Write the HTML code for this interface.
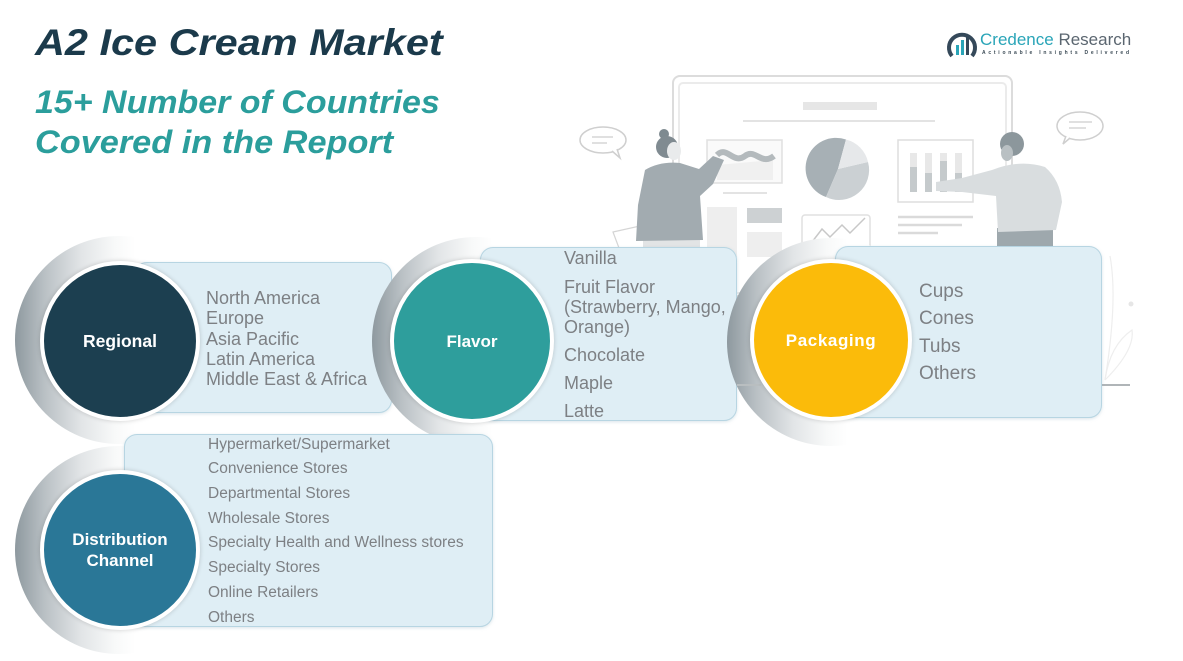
<!DOCTYPE html>
<html><head><meta charset="utf-8">
<style>
*{margin:0;padding:0;box-sizing:border-box}
html,body{width:1183px;height:661px;overflow:hidden;background:#fff}
body{position:relative;font-family:"Liberation Sans",sans-serif}
.abs{position:absolute}
.disc{position:absolute;border-radius:50%;width:208px;height:208px;
 background:linear-gradient(to right,#8e999f 0%,#b9c0c4 14%,#e2e5e7 32%,#f8f9f9 48%,#fff 58%)}
.box{position:absolute;background:#dfeef5;border:1.5px solid #b7d5e2;border-radius:13px;box-shadow:0 1px 3px rgba(150,180,195,.35)}
.circ{position:absolute;border-radius:50%;border:4px solid #fff;box-shadow:0 0 5px rgba(0,0,0,.18);
 display:flex;align-items:center;justify-content:center;text-align:center;color:#fff;font-weight:bold;font-size:17px;line-height:21px}
.t{position:absolute;color:#7d8084;white-space:nowrap}
.r{font-size:18px;line-height:20.4px}
.f{font-size:18px;line-height:20px}
.p{font-size:19px;line-height:20px}
.d{font-size:15.5px;line-height:20px}
</style></head><body>

<!-- illustration -->
<svg class="abs" style="left:0;top:0" width="1183" height="661" viewBox="0 0 1183 661">
 <rect x="673" y="76" width="339" height="220" rx="7" fill="none" stroke="#dcdcdc" stroke-width="2"/>
 <rect x="679" y="83" width="327" height="210" rx="4" fill="none" stroke="#ebebeb" stroke-width="2"/>
 <rect x="803" y="102" width="74" height="8" fill="#e6e6e6"/>
 <line x1="743" y1="121" x2="935" y2="121" stroke="#e3e3e3" stroke-width="2"/>
 <rect x="707" y="140" width="75" height="43" fill="#fafafa" stroke="#e0e0e0" stroke-width="1.5"/>
 <path d="M717,165 L773,160 L773,180 L717,180 Z" fill="#f0f0f0"/>
 <path d="M717,155 C727,145 733,165 745,156 C755,148 761,166 774,156" fill="none" stroke="#b4babd" stroke-width="6"/>
 <line x1="723" y1="193" x2="767" y2="193" stroke="#e3e3e3" stroke-width="2"/>
 <path d="M838,169 L846,139.5 A30,30 0 0,0 826,197 Z" fill="#a7b0b5"/>
 <path d="M838,169 L826,197 A30,30 0 0,0 868,162 Z" fill="#cbd0d3"/>
 <path d="M838,169 L868,162 A30,30 0 0,0 846,139.5 Z" fill="#e6e8ea"/>
 <rect x="707" y="207" width="30" height="50" fill="#eeeeee"/>
 <rect x="747" y="208" width="35" height="15" fill="#cdd1d3"/>
 <rect x="747" y="232" width="35" height="25" fill="#eeeeee"/>
 <rect x="802" y="215" width="68" height="42" rx="3" fill="none" stroke="#e0e0e0" stroke-width="1.5"/>
 <polyline points="812,242 822,229 830,237 842,225 850,233 865,218" fill="none" stroke="#c8c8c8" stroke-width="1.5"/>
 <rect x="898" y="140" width="75" height="62" fill="none" stroke="#dedede" stroke-width="1.5"/>
 <rect x="910" y="153" width="7" height="39" fill="#e8e8e8"/>
 <rect x="925" y="153" width="7" height="39" fill="#e8e8e8"/>
 <rect x="940" y="153" width="7" height="39" fill="#e8e8e8"/>
 <rect x="955" y="153" width="7" height="39" fill="#e8e8e8"/>
 <rect x="910" y="167" width="7" height="25" fill="#c5cacc"/>
 <rect x="925" y="173" width="7" height="19" fill="#c5cacc"/>
 <rect x="940" y="161" width="7" height="31" fill="#c5cacc"/>
 <rect x="955" y="173" width="7" height="19" fill="#c5cacc"/>
 <line x1="898" y1="217" x2="973" y2="217" stroke="#dadada" stroke-width="2.5"/>
 <line x1="898" y1="225" x2="962" y2="225" stroke="#dadada" stroke-width="2.5"/>
 <line x1="898" y1="233" x2="938" y2="233" stroke="#dadada" stroke-width="2.5"/>
 <!-- speech bubbles -->
 <ellipse cx="603" cy="140" rx="23" ry="13" fill="#fff" stroke="#cfcfcf" stroke-width="1.5"/>
 <path d="M612,151 L620,158 L617,149" fill="#fff" stroke="#cfcfcf" stroke-width="1.5"/>
 <line x1="592" y1="137" x2="613" y2="137" stroke="#d5d5d5" stroke-width="1.5"/>
 <line x1="592" y1="143" x2="607" y2="143" stroke="#d5d5d5" stroke-width="1.5"/>
 <ellipse cx="1080" cy="126" rx="23" ry="14" fill="#fff" stroke="#cfcfcf" stroke-width="1.5"/>
 <path d="M1070,138 L1063,144 L1066,136" fill="#fff" stroke="#cfcfcf" stroke-width="1.5"/>
 <line x1="1069" y1="122" x2="1092" y2="122" stroke="#d5d5d5" stroke-width="1.5"/>
 <line x1="1069" y1="128" x2="1086" y2="128" stroke="#d5d5d5" stroke-width="1.5"/>
 <!-- woman -->
 <path d="M613,232 L640,226 L652,252 L622,256 Z" fill="#fff" stroke="#d5d5d5" stroke-width="1.2"/>
 <rect x="643" y="236" width="57" height="20" fill="#e2e4e5"/>
 <path d="M645,170 Q660,161 680,163 L699,169 L713,156 L724,160 L713,184 L700,196 L703,240 L636,241 L638,205 Z" fill="#a2abb0"/>
 <circle cx="664" cy="134" r="5" fill="#7e8a90"/>
 <circle cx="667" cy="147" r="11" fill="#808b91"/>
 <ellipse cx="674" cy="151" rx="7" ry="9" fill="#e9ebec"/>
 <!-- man -->
 <rect x="997" y="228" width="56" height="28" fill="#9ea8ad"/>
 <path d="M992,170 Q1020,159 1045,167 Q1060,180 1062,202 L1056,230 L998,232 L996,196 L962,192 L936,191 L936,182 L962,178 Z" fill="#d9dddf"/>
 <circle cx="1012" cy="144" r="12" fill="#8c979c"/>
 <ellipse cx="1007" cy="153" rx="6" ry="8" fill="#b9c0c3"/>
 <!-- plant -->
 <path d="M1110,256 Q1118,300 1105,380" fill="none" stroke="#eeeeee" stroke-width="1.2"/>
 <path d="M1105,380 Q1135,350 1132,330 Q1110,345 1105,380" fill="none" stroke="#eeeeee" stroke-width="1.2"/>
 <circle cx="1131" cy="304" r="2.5" fill="#e6e6e6"/>
</svg>

<!-- Regional -->
<div class="disc" style="left:15px;top:236px"></div>
<div class="box" style="left:134px;top:262px;width:258px;height:151px"></div>
<div class="circ" style="left:40px;top:261px;width:160px;height:160px;background:#1c3f50;font-size:17.5px">Regional</div>
<div class="t r" style="left:206px;top:287.8px">North America<br>Europe<br>Asia Pacific<br>Latin America<br>Middle East &amp; Africa</div>

<!-- Flavor -->
<div class="disc" style="left:372px;top:237px"></div>
<div class="box" style="left:480px;top:247px;width:257px;height:174px"></div>
<div class="circ" style="left:390px;top:259px;width:164px;height:164px;background:#2e9e9c">Flavor</div>
<div class="t f" style="left:564px;top:248px">Vanilla</div>
<div class="t f" style="left:564px;top:277px">Fruit Flavor</div>
<div class="t f" style="left:564px;top:297px">(Strawberry, Mango,</div>
<div class="t f" style="left:564px;top:317px">Orange)</div>
<div class="t f" style="left:564px;top:345px">Chocolate</div>
<div class="t f" style="left:564px;top:373px">Maple</div>
<div class="t f" style="left:564px;top:401px">Latte</div>

<!-- Packaging -->
<div class="disc" style="left:727px;top:238px"></div>
<div class="abs" style="left:737px;top:384px;width:24px;height:2px;background:#b9bec0"></div>
<div class="abs" style="left:1102px;top:384px;width:28px;height:2px;background:#b0b5b8"></div>
<div class="box" style="left:835px;top:246px;width:267px;height:172px"></div>
<div class="circ" style="left:750px;top:259px;width:162px;height:162px;background:#fbbb0a;letter-spacing:0.6px">Packaging</div>
<div class="t p" style="left:919px;top:282px">Cups</div>
<div class="t p" style="left:919px;top:309px">Cones</div>
<div class="t p" style="left:919px;top:337px">Tubs</div>
<div class="t p" style="left:919px;top:364px">Others</div>

<!-- Distribution -->
<div class="disc" style="left:15px;top:446px"></div>
<div class="box" style="left:124px;top:434px;width:369px;height:193px"></div>
<div class="circ" style="left:40px;top:470px;width:160px;height:160px;background:#2a7797">Distribution<br>Channel</div>
<div class="t d" style="left:208px;top:435px">Hypermarket/Supermarket</div>
<div class="t d" style="left:208px;top:459px">Convenience Stores</div>
<div class="t d" style="left:208px;top:484px">Departmental Stores</div>
<div class="t d" style="left:208px;top:509px">Wholesale Stores</div>
<div class="t d" style="left:208px;top:533px">Specialty Health and Wellness stores</div>
<div class="t d" style="left:208px;top:558px">Specialty Stores</div>
<div class="t d" style="left:208px;top:583px">Online Retailers</div>
<div class="t d" style="left:208px;top:608px">Others</div>

<!-- Titles -->
<div class="abs" style="left:35px;top:23.7px;font-size:37px;line-height:37px;font-weight:bold;font-style:italic;color:#1b3a4b;white-space:nowrap;transform:scaleX(1.12);transform-origin:0 0">A2 Ice Cream Market</div>
<div class="abs" style="left:35px;top:85.8px;font-size:32.5px;line-height:32.5px;font-weight:bold;font-style:italic;color:#2b9e9c;white-space:nowrap;transform:scaleX(1.045);transform-origin:0 0">15+ Number of Countries</div>
<div class="abs" style="left:35px;top:125.8px;font-size:32.5px;line-height:32.5px;font-weight:bold;font-style:italic;color:#2b9e9c;white-space:nowrap;transform:scaleX(1.055);transform-origin:0 0">Covered in the Report</div>

<!-- Logo -->
<svg class="abs" style="left:946px;top:28px" width="32" height="32" viewBox="0 0 32 32">
 <path d="M6,28 A13,13 0 1,1 26,28" fill="none" stroke="#35495a" stroke-width="4"/>
 <rect x="10" y="17" width="3" height="10" fill="#2aa5b8"/>
 <rect x="15" y="12" width="3" height="15" fill="#2aa5b8"/>
 <rect x="20" y="8" width="3" height="19" fill="#35495a"/>
</svg>
<div class="abs" style="left:980px;top:30px;font-size:17px;line-height:20px;white-space:nowrap"><span style="color:#2aa5b8">Credence</span> <span style="color:#5b6670">Research</span></div>
<div class="abs" style="left:982px;top:50px;font-size:5px;line-height:6px;font-weight:bold;letter-spacing:2.75px;color:#3b4a55;white-space:nowrap">Actionable Insights Delivered</div>

</body></html>
